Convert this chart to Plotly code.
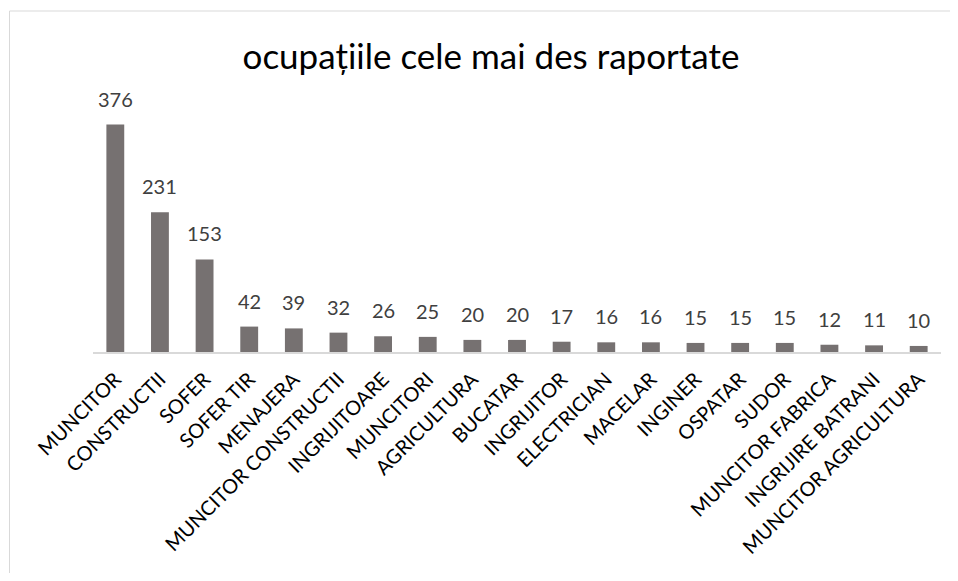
import plotly.graph_objects as go

categories = ["MUNCITOR", "CONSTRUCTII", "SOFER", "SOFER TIR", "MENAJERA",
              "MUNCITOR CONSTRUCTII", "INGRIJITOARE", "MUNCITORI", "AGRICULTURA",
              "BUCATAR", "INGRIJITOR", "ELECTRICIAN", "MACELAR", "INGINER",
              "OSPATAR", "SUDOR", "MUNCITOR FABRICA", "INGRIJIRE BATRANI",
              "MUNCITOR AGRICULTURA"]
values = [376, 231, 153, 42, 39, 32, 26, 25, 20, 20, 17, 16, 16, 15, 15, 15, 12, 11, 10]
title_text = "ocupațiile cele mai des raportate"

OFF = 8  # default body margin of the page
W, H = 958 - 2 * OFF, 581 - 2 * OFF
# plot area in page pixels
PL, PR, PT, PB = 93, 941, 110, 352
L, R, T, B = PL - OFF, PR - OFF, PT - OFF, PB - OFF

FONT = "Lato, sans-serif"

fig = go.Figure(go.Bar(
    x=categories, y=values,
    marker=dict(color="#767171", line=dict(width=0)),
    hoverinfo="x+y",
))

def px2paper_x(px):
    return (px - OFF - L) / (R - L)

def py2paper_y(py):
    return (B - (py - OFF)) / (B - T)

annotations = [
    dict(x=c, y=v, xref="x", yref="y", text=str(v), showarrow=False,
         xanchor="center", yanchor="bottom", yshift=12,
         font=dict(family=FONT, size=20, color="#404040"))
    for c, v in zip(categories, values)
]

fig.update_layout(
    width=W, height=H,
    margin=dict(l=L, r=W - R, t=T, b=H - B, pad=0),
    paper_bgcolor="white", plot_bgcolor="white",
    bargap=0.6,
    showlegend=False,
    title=dict(text=title_text, x=px2paper_x(491), xref="paper", xanchor="center",
               y=1 - (57 - OFF) / H, yref="container", yanchor="middle",
               font=dict(family=FONT, size=35, color="#000000")),
    xaxis=dict(tickangle=-45, showgrid=False, showline=True, linecolor="#d9d9d9",
               linewidth=1.5, ticks="", ticklabelstandoff=6,
               tickfont=dict(family=FONT, size=20, color="#000000")),
    yaxis=dict(range=[0, 400], visible=False),
    annotations=annotations,
    shapes=[
        dict(type="line", xref="paper", yref="paper",
             x0=px2paper_x(9.5), x1=px2paper_x(9.5), y0=py2paper_y(11), y1=py2paper_y(700),
             line=dict(color="#d9d9d9", width=1)),
        dict(type="line", xref="paper", yref="paper",
             x0=px2paper_x(9.5), x1=px2paper_x(1100), y0=py2paper_y(11), y1=py2paper_y(11),
             line=dict(color="#d9d9d9", width=1)),
    ],
)

fig.write_html("out.html")
